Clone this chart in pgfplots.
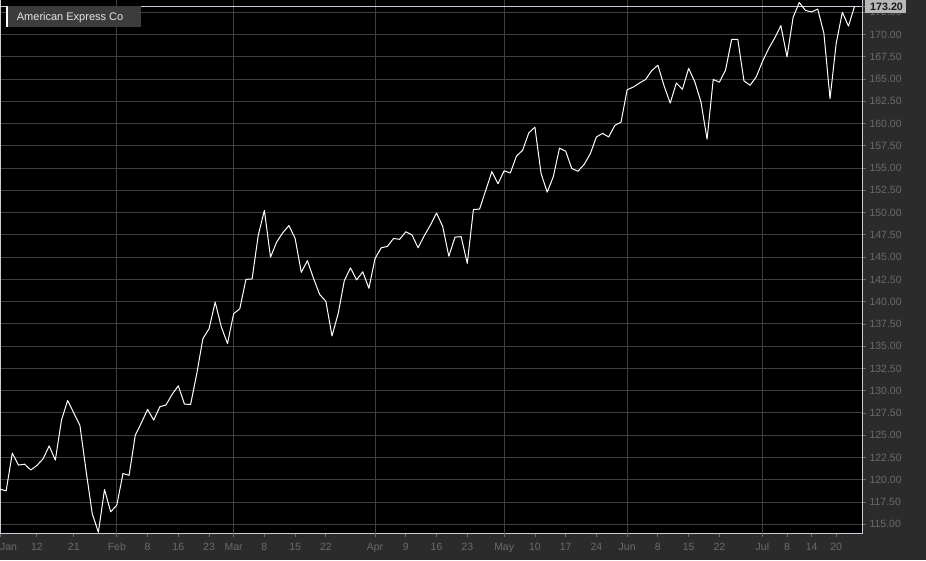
\documentclass[border=0pt]{standalone}
\usepackage{fontspec}
\setmainfont{Liberation Sans}
\usepackage{pgfplots}
\pgfplotsset{compat=1.18}
\usepackage{pgfplotstable}
\definecolor{outerbg}{HTML}{2B2B2B}
\definecolor{gridc}{HTML}{3E3E3E}
\definecolor{tickc}{HTML}{6A6A6A}
\definecolor{framec}{HTML}{C8CCD8}
\definecolor{legbg}{HTML}{3C3C3C}
\definecolor{pricebg}{HTML}{B8B8B8}

\pgfplotstableread{
i v
0 118.95
1 118.75
2 123.0
3 121.65
4 121.75
5 121.1
6 121.6
7 122.35
8 123.8
9 122.2
10 126.7
11 128.9
12 127.5
13 126.1
14 121.0
15 116.2
16 114.1
17 118.9
18 116.4
19 117.15
20 120.7
21 120.5
22 125.0
23 126.4
24 127.9
25 126.7
26 128.2
27 128.4
28 129.6
29 130.55
30 128.5
31 128.45
32 131.9
33 135.85
34 136.95
35 139.95
36 137.15
37 135.3
38 138.65
39 139.2
40 142.5
41 142.55
42 147.45
43 150.25
44 145.0
45 146.7
46 147.75
47 148.55
48 147.1
49 143.3
50 144.6
51 142.6
52 140.8
53 140.05
54 136.15
55 138.65
56 142.35
57 143.8
58 142.45
59 143.35
60 141.5
61 144.85
62 146.05
63 146.2
64 147.1
65 147.0
66 147.85
67 147.5
68 146.05
69 147.4
70 148.6
71 149.95
72 148.45
73 145.1
74 147.25
75 147.3
76 144.3
77 150.35
78 150.4
79 152.5
80 154.6
81 153.25
82 154.7
83 154.45
84 156.35
85 157.0
86 158.95
87 159.6
88 154.4
89 152.3
90 154.05
91 157.25
92 156.9
93 154.95
94 154.65
95 155.4
96 156.6
97 158.5
98 158.9
99 158.5
100 159.8
101 160.15
102 163.8
103 164.1
104 164.55
105 164.95
106 165.95
107 166.55
108 164.25
109 162.3
110 164.55
111 163.85
112 166.2
113 164.7
114 162.45
115 158.25
116 164.95
117 164.65
118 166.0
119 169.45
120 169.45
121 164.8
122 164.3
123 165.25
124 166.95
125 168.4
126 169.6
127 171.0
128 167.5
129 171.95
130 173.6
131 172.7
132 172.55
133 172.85
134 170.15
135 162.8
136 169.0
137 172.5
138 170.95
139 173.2
}\datatable

\begin{document}
\begin{tikzpicture}
\fill[outerbg] (0pt,0pt) rectangle (926pt,560pt);
\useasboundingbox (0pt,0pt) rectangle (926pt,560pt);
\begin{axis}[
  at={(0pt,27pt)}, anchor=south west,
  width=862pt, height=533pt, scale only axis,
  xmin=0, xmax=140.2, ymin=114.02, ymax=173.88,
  axis background/.style={fill=black},
  axis line style={draw=framec, line width=1pt},
  tick align=outside,
  major tick length=4pt,
  tick style={draw=tickc, line width=0.8pt},
  xtick pos=bottom,
  ytick pos=right,
  yticklabel pos=right,
  xtick={0,6,12,19,24,29,34,38,43,48,53,61,66,71,76,82,87,92,97,102,107,112,117,124,128,132,136},
  xticklabels={\makebox[0pt][l]{Jan},12,21,Feb,8,16,23,Mar,8,15,22,Apr,9,16,23,May,10,17,24,Jun,8,15,22,Jul,8,14,20},
  xticklabel style={yshift=-2.5pt},
  extra x ticks={19,38,61,82,102,124},
  extra x tick labels={},
  extra x tick style={grid=major},
  ytick={115,117.5,120,122.5,125,127.5,130,132.5,135,137.5,140,142.5,145,147.5,150,152.5,155,157.5,160,162.5,165,167.5,170,172.5},
  yticklabels={115.00,117.50,120.00,122.50,125.00,127.50,130.00,132.50,135.00,137.50,140.00,142.50,145.00,147.50,150.00,152.50,155.00,157.50,160.00,162.50,165.00,167.50,170.00,172.50},
  ymajorgrids,
  major grid style={draw=gridc, line width=1pt},
  ticklabel style={font=\fontsize{10.5}{12}\selectfont, text=tickc},
  clip=true,
]
\addplot[framec, line width=1pt] coordinates {(0,173.2) (140.2,173.2)};
\addplot[white, line width=1pt, line join=round] table[x=i,y=v]{\datatable};
\end{axis}
% legend box
\fill[legbg] (7pt,533pt) rectangle (141pt,554pt);
\fill[white] (5.5pt,533pt) rectangle (7.5pt,554pt);
\node[anchor=base west, inner sep=0pt, text=white!90!black, font=\fontsize{11}{13}\selectfont] at (16.7pt,539.8pt) {American Express Co};
% last price label
\draw[tickc, line width=0.8pt] (862pt,554pt) -- (866pt,554pt);
\fill[pricebg] (865pt,546.7pt) rectangle (906pt,560pt);
\node[anchor=base west, inner sep=0pt, text=black!90, font=\fontsize{10.7}{12}\selectfont\bfseries] at (870pt,549.5pt) {173.20};
\end{tikzpicture}
\end{document}
